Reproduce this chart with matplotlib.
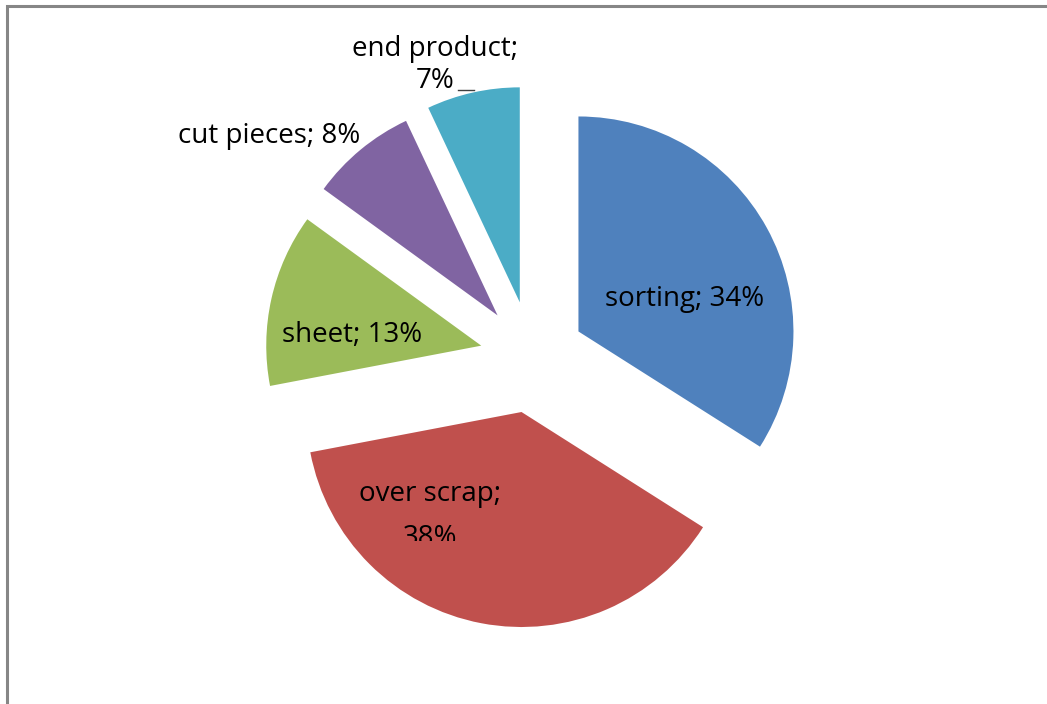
import matplotlib.pyplot as plt
from matplotlib.patches import Rectangle
from matplotlib.transforms import Bbox, TransformedBbox

categories = ["sorting", "over scrap", "sheet", "cut pieces", "end product"]
shares = [34, 38, 13, 8, 7]
colors = ["#4F81BD", "#C0504D", "#9BBB59", "#8064A2", "#4BACC6"]

W, H = 1047, 704


def py(y):
    # screen pixel row -> data y (y axis points up)
    return H - y


fig = plt.figure(figsize=(W / 100, H / 100), dpi=100)
ax = fig.add_axes([0, 0, 1, 1])

# explode is in data units here (pixels), not a fraction of the radius
ax.pie(shares, explode=[53, 56, 52, 54, 56], startangle=90, counterclock=False,
       colors=colors, center=(532, py(357)), radius=215,
       wedgeprops=dict(linewidth=0))

ax.set_xlim(0, W)
ax.set_ylim(0, H)
ax.set_aspect("equal")
ax.axis("off")

font = dict(family=["Open Sans", "DejaVu Sans"], fontsize=20, color="black",
            ha="center", va="baseline")
ax.text(685, py(306), f"{categories[0]}; {shares[0]}%", **font)
# multi-line labels: y is the baseline of the last line
t = ax.text(430, py(545), f"{categories[1]};\n{shares[1]}%", linespacing=1.75, **font)
# the label is cut off at the bottom in the original
t.set_clip_box(TransformedBbox(Bbox([[0, py(541)], [W, H]]), ax.transData))
t.set_clip_on(True)
ax.text(352, py(342), f"{categories[2]}; {shares[2]}%", **font)
ax.text(269, py(143), f"{categories[3]}; {shares[3]}%", **font)
ax.text(435, py(88), f"{categories[4]};\n{shares[4]}%", linespacing=1.2, **font)

# leader line for the small slice
ax.plot([458, 474], [py(90), py(90)], color="#404040", lw=1)

# chart frame, cut off at right and bottom
fig.patches.append(Rectangle((7 / W, -0.1), 1.2, 1 - 6 / H + 0.1,
                             transform=fig.transFigure, fill=False,
                             edgecolor="#868686", linewidth=2.2))

fig.savefig("out.png", dpi=100)
